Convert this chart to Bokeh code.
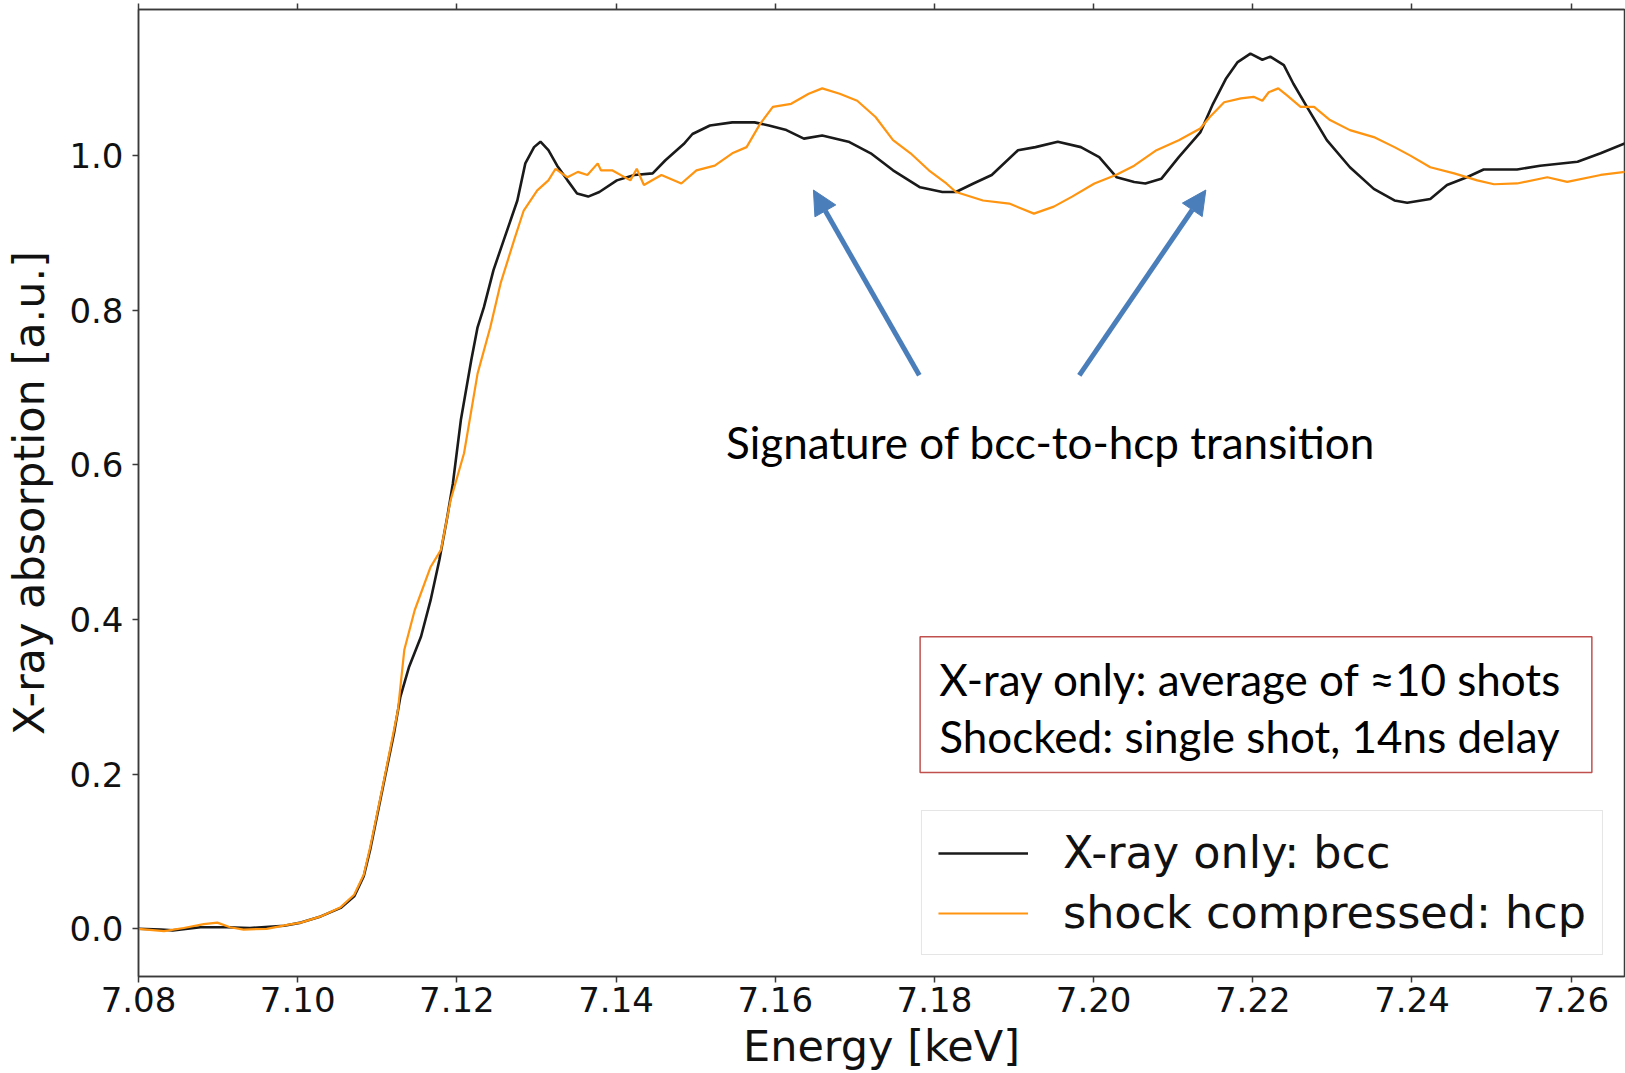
from bokeh.plotting import figure
from bokeh.models import (Range1d, FixedTicker, LinearAxis, Arrow, NormalHead,
                          BoxAnnotation, Label, Legend, LegendItem, PrintfTickFormatter)
from bokeh.embed import file_html
from bokeh.resources import INLINE

# ---------------- data ----------------
bcc_energy = [7.0800, 7.0828, 7.0843, 7.0878, 7.0911, 7.0940, 7.0983, 7.1004, 7.1029, 7.1054,
              7.1071, 7.1083, 7.1091, 7.1108, 7.1121, 7.1129, 7.1140, 7.1155, 7.1167, 7.1178,
              7.1188, 7.1195, 7.1205, 7.1218, 7.1226, 7.1234, 7.1246, 7.1259, 7.1276, 7.1286,
              7.1297, 7.1305, 7.1315, 7.1326, 7.1339, 7.1351, 7.1365, 7.1379, 7.1401, 7.1423,
              7.1446, 7.1462, 7.1485, 7.1496, 7.1518, 7.1546, 7.1574, 7.1592, 7.1614, 7.1636,
              7.1659, 7.1692, 7.1720, 7.1748, 7.1782, 7.1810, 7.1827, 7.1849, 7.1872, 7.1905,
              7.1927, 7.1955, 7.1984, 7.2007, 7.2029, 7.2051, 7.2065, 7.2085, 7.2107, 7.2134,
              7.2150, 7.2166, 7.2181, 7.2197, 7.2212, 7.2222, 7.2239, 7.2251, 7.2268, 7.2293,
              7.2322, 7.2352, 7.2378, 7.2394, 7.2423, 7.2444, 7.2469, 7.2490, 7.2532, 7.2561,
              7.2608, 7.2637, 7.2668]
bcc_absorption = [0.000, -0.001, -0.002, 0.002, 0.002, 0.001, 0.004, 0.008, 0.016, 0.027,
                  0.042, 0.068, 0.102, 0.188, 0.253, 0.300, 0.339, 0.378, 0.425, 0.477,
                  0.533, 0.576, 0.658, 0.735, 0.778, 0.804, 0.852, 0.891, 0.942, 0.990,
                  1.011, 1.018, 1.007, 0.987, 0.968, 0.951, 0.947, 0.953, 0.968, 0.975,
                  0.977, 0.994, 1.015, 1.028, 1.039, 1.043, 1.043, 1.039, 1.033, 1.022,
                  1.026, 1.018, 1.003, 0.981, 0.959, 0.953, 0.953, 0.964, 0.975, 1.007,
                  1.011, 1.018, 1.011, 0.998, 0.972, 0.966, 0.964, 0.970, 0.998, 1.030,
                  1.067, 1.099, 1.121, 1.132, 1.124, 1.128, 1.117, 1.093, 1.063, 1.020,
                  0.985, 0.957, 0.942, 0.939, 0.944, 0.962, 0.972, 0.982, 0.982, 0.987,
                  0.992, 1.003, 1.016]

hcp_energy = [7.0800, 7.0832, 7.0857, 7.0882, 7.0899, 7.0915, 7.0932, 7.0961, 7.0987, 7.1004,
              7.1029, 7.1054, 7.1071, 7.1083, 7.1091, 7.1108, 7.1126, 7.1134, 7.1147, 7.1167,
              7.1180, 7.1192, 7.1209, 7.1226, 7.1242, 7.1255, 7.1272, 7.1284, 7.1301, 7.1315,
              7.1324, 7.1339, 7.1352, 7.1364, 7.1377, 7.1381, 7.1395, 7.1418, 7.1426, 7.1435,
              7.1457, 7.1482, 7.1501, 7.1524, 7.1546, 7.1564, 7.1581, 7.1597, 7.1620, 7.1642,
              7.1659, 7.1681, 7.1703, 7.1726, 7.1748, 7.1770, 7.1793, 7.1815, 7.1827, 7.1861,
              7.1894, 7.1925, 7.1950, 7.1973, 7.2001, 7.2028, 7.2051, 7.2079, 7.2107, 7.2134,
              7.2146, 7.2164, 7.2185, 7.2201, 7.2212, 7.2220, 7.2232, 7.2243, 7.2260, 7.2277,
              7.2297, 7.2322, 7.2352, 7.2378, 7.2398, 7.2423, 7.2453, 7.2482, 7.2503, 7.2532,
              7.2570, 7.2595, 7.2637, 7.2668]
hcp_absorption = [0.000, -0.003, 0.001, 0.006, 0.008, 0.002, -0.001, 0.000, 0.005, 0.008,
                  0.016, 0.028, 0.044, 0.070, 0.105, 0.190, 0.283, 0.361, 0.412, 0.468,
                  0.490, 0.554, 0.615, 0.718, 0.778, 0.835, 0.891, 0.929, 0.955, 0.968,
                  0.983, 0.972, 0.979, 0.975, 0.990, 0.981, 0.981, 0.968, 0.983, 0.962,
                  0.975, 0.964, 0.981, 0.987, 1.003, 1.011, 1.041, 1.063, 1.067, 1.080,
                  1.087, 1.080, 1.071, 1.050, 1.020, 1.003, 0.981, 0.964, 0.953, 0.942,
                  0.938, 0.925, 0.934, 0.947, 0.964, 0.975, 0.987, 1.007, 1.020, 1.035,
                  1.050, 1.069, 1.074, 1.076, 1.071, 1.082, 1.087, 1.078, 1.063, 1.063,
                  1.046, 1.033, 1.024, 1.011, 1.000, 0.985, 0.977, 0.968, 0.963, 0.964,
                  0.972, 0.966, 0.975, 0.979]

x_ticks = [7.08, 7.10, 7.12, 7.14, 7.16, 7.18, 7.20, 7.22, 7.24, 7.26]
y_ticks = [0.0, 0.2, 0.4, 0.6, 0.8, 1.0]
series_labels = ["X-ray only: bcc", "shock compressed: hcp"]
annotation_text = "Signature of bcc-to-hcp transition"
box_lines = ["X-ray only: average of \u224810 shots", "Shocked: single shot, 14ns delay"]

# ---------------- figure ----------------
AX = "#3a3a3a"
p = figure(width=1625, height=1073, output_backend="svg", toolbar_location=None,
           x_range=Range1d(7.08, 7.2667), y_range=Range1d(-0.0617, 1.189),
           min_border_left=138, min_border_right=1, min_border_top=9, min_border_bottom=96)
p.background_fill_color = "white"
p.border_fill_color = "white"
p.outline_line_color = AX
p.outline_line_width = 1.5
p.xgrid.visible = False
p.ygrid.visible = False

for ax in (p.xaxis[0], p.yaxis[0]):
    ax.axis_line_color = AX
    ax.axis_line_width = 1.5
    ax.major_tick_line_color = AX
    ax.major_tick_line_width = 1.5
    ax.major_tick_out = 6
    ax.major_tick_in = 0
    ax.minor_tick_line_color = None
    ax.major_label_text_font = "DejaVu Sans"
    ax.major_label_text_font_size = "34px"
    ax.major_label_text_color = "#111111"
    ax.axis_label_text_font = "DejaVu Sans"
    ax.axis_label_text_font_size = "43px"
    ax.axis_label_text_font_style = "normal"
    ax.axis_label_text_color = "#111111"

p.xaxis[0].ticker = FixedTicker(ticks=x_ticks)
p.xaxis[0].formatter = PrintfTickFormatter(format="%.2f")
p.xaxis[0].axis_label = "Energy [keV]"
p.xaxis[0].major_label_standoff = 4
p.xaxis[0].axis_label_standoff = 6
p.yaxis[0].ticker = FixedTicker(ticks=y_ticks)
p.yaxis[0].formatter = PrintfTickFormatter(format="%.1f")
p.yaxis[0].axis_label = "X-ray absorption [a.u.]"
p.yaxis[0].major_label_standoff = 9
p.yaxis[0].axis_label_standoff = 12

# top spine ticks only (labels not painted)
top = LinearAxis(ticker=FixedTicker(ticks=x_ticks), axis_line_color=AX, axis_line_width=1.5,
                 major_tick_line_color=AX, major_tick_line_width=1.5, major_tick_out=6,
                 major_tick_in=0, minor_tick_line_color=None,
                 major_label_text_font_size="1px", major_label_text_color=None,
                 major_label_standoff=0)
p.add_layout(top, "above")

r_bcc = p.line(bcc_energy, bcc_absorption, line_color="#1a1a1a", line_width=2.6)
r_hcp = p.line(hcp_energy, hcp_absorption, line_color="#ff9410", line_width=2.2)

# arrows
BLUE = "#4A7EBB"
for xs, xe in ((7.1781, 7.1648), (7.1982, 7.2141)):
    p.add_layout(Arrow(end=NormalHead(size=24, fill_color=BLUE, line_color=BLUE),
                       x_start=xs, y_start=0.7158, x_end=xe, y_end=0.9555,
                       line_color=BLUE, line_width=5))

p.add_layout(Label(x=7.1946, y=0.630, text=annotation_text, text_font="Lato",
                   text_font_size="44px", text_align="center", text_baseline="alphabetic",
                   text_color="#000000"))

# info box
p.add_layout(BoxAnnotation(left=7.1782, right=7.2626, top=0.3778, bottom=0.2020,
                           fill_color="white", fill_alpha=1.0,
                           line_color="#C0504D", line_alpha=1.0, line_width=1.5))
for txt, yb in zip(box_lines, (0.3227, 0.2500)):
    p.add_layout(Label(x=7.1806, y=yb, text=txt, text_font="Lato", text_font_size="44px",
                       text_baseline="alphabetic", text_color="#000000"))

legend = Legend(items=[LegendItem(label=series_labels[0], renderers=[r_bcc]),
                       LegendItem(label=series_labels[1], renderers=[r_hcp])],
                location="bottom_right", margin=21, padding=16, spacing=9,
                glyph_width=90, glyph_height=20, label_standoff=35,
                label_text_font="DejaVu Sans", label_text_font_size="44.5px",
                label_text_color="#111111",
                border_line_color="#cccccc", border_line_width=1.5,
                background_fill_color="white", background_fill_alpha=0.9)
p.add_layout(legend)

open("out.html", "w").write(file_html(p, INLINE))
